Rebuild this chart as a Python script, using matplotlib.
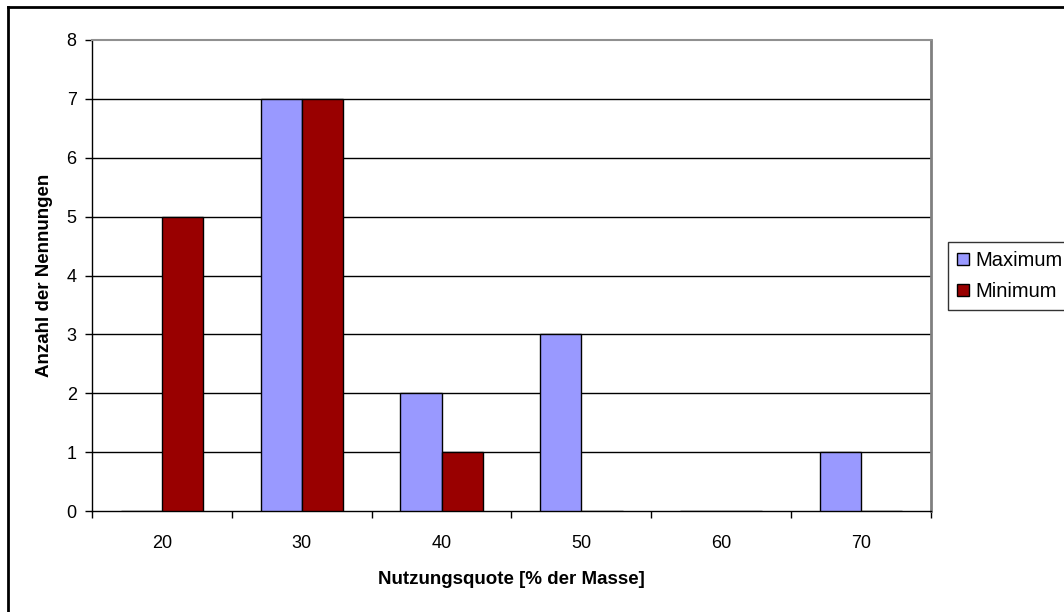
import numpy as np
import matplotlib.pyplot as plt
from matplotlib.lines import Line2D

plt.rcParams['font.family'] = ['Liberation Sans', 'DejaVu Sans']

# Anzahl der Nennungen je Nutzungsquote
quoten = ['20', '30', '40', '50', '60', '70']
maximum = [0, 7, 2, 3, 0, 1]
minimum = [5, 7, 1, 0, 0, 0]

fig = plt.figure(figsize=(10.64, 6.12), dpi=100)
ax = fig.add_axes([92 / 1064, 1 - 511 / 612, (931 - 92) / 1064, (511 - 40) / 612])

x = np.arange(len(quoten))
w = 0.294
ax.bar(x - w / 2, maximum, w, color='#9999FF', edgecolor='black', linewidth=1, label='Maximum', zorder=3)
ax.bar(x + w / 2, minimum, w, color='#990000', edgecolor='black', linewidth=1, label='Minimum', zorder=3)

ax.set_xlim(-0.5, len(quoten) - 0.5)
ax.set_ylim(0, 8)

# Gitterlinien
for y in range(1, 8):
    ax.axhline(y, color='black', linewidth=1, zorder=1)

ax.set_yticks(range(0, 9))
ax.tick_params(axis='y', direction='out', length=5, width=1, labelsize=13, pad=6)

# Achsenstriche zwischen den Kategorien, Beschriftung in der Mitte
ax.set_xticks(np.arange(-0.5, len(quoten)), labels=[''] * (len(quoten) + 1))
ax.set_xticks(x, labels=quoten, minor=True)
ax.tick_params(axis='x', which='major', direction='out', length=5, width=1)
ax.tick_params(axis='x', which='minor', length=0, labelsize=13, pad=17)

ax.spines['top'].set_color('#909090')
ax.spines['top'].set_linewidth(1.5)
ax.spines['right'].set_color('#808080')
ax.spines['right'].set_linewidth(2)
for s in ['left', 'bottom']:
    ax.spines[s].set_color('black')
    ax.spines[s].set_linewidth(1)

ax.set_xlabel('Nutzungsquote [% der Masse]', fontsize=13.5, fontweight='bold', labelpad=14)
ax.set_ylabel('Anzahl der Nennungen', fontsize=13.5, fontweight='bold', labelpad=10)

leg = fig.legend(loc='upper left', bbox_to_anchor=(948 / 1064, 1 - 242 / 612),
                 borderaxespad=0, fontsize=14.5, frameon=True, fancybox=False,
                 handlelength=0.6, handleheight=0.6, handletextpad=0.3,
                 borderpad=0.45, labelspacing=0.6)
leg.get_frame().set_edgecolor('black')
leg.get_frame().set_linewidth(1)

# Rahmen um das Diagramm
fig.add_artist(Line2D([8 / 1064, 8 / 1064], [0, 1 - 7 / 612], color='black', linewidth=2, transform=fig.transFigure))
fig.add_artist(Line2D([8 / 1064, 1], [1 - 7 / 612, 1 - 7 / 612], color='black', linewidth=2, transform=fig.transFigure))

fig.savefig('out.png', dpi=100)
